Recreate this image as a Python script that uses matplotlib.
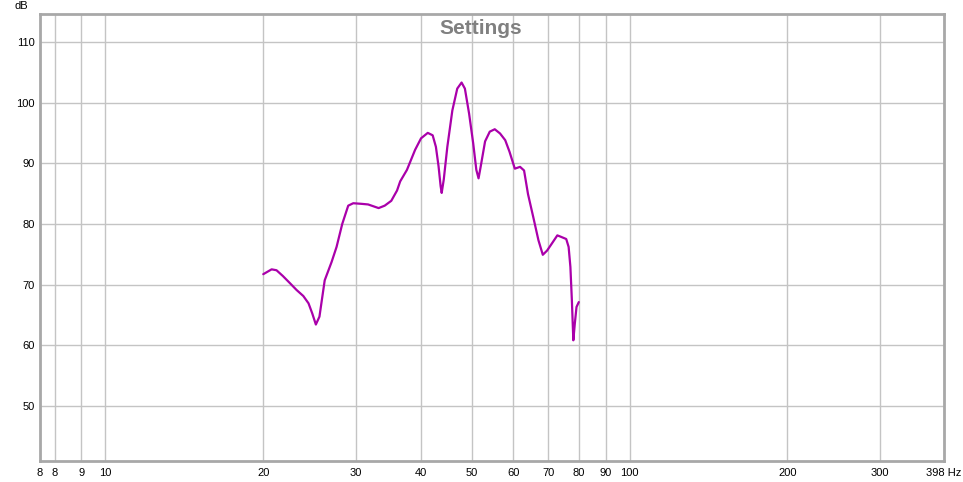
import numpy as np
import matplotlib.pyplot as plt

freq_hz = [20.0, 20.75, 21.2, 21.8, 22.5, 23.15, 23.85, 24.4, 24.8, 25.2, 25.6, 26.2,
           27.0, 27.6, 28.3, 29.05, 29.7, 30.8, 31.7, 33.2, 34.1, 35.1, 36.0, 36.5,
           37.6, 38.97, 40.0, 41.2, 42.1, 42.7, 43.2, 43.6, 43.8, 44.2, 44.9, 45.9,
           46.9, 47.8, 48.5, 49.4, 50.3, 51.0, 51.5, 52.0, 53.0, 54.1, 55.3, 56.6,
           57.9, 59.0, 60.4, 61.8, 62.9, 64.0, 65.5, 67.0, 68.3, 69.6, 71.0, 72.8,
           73.8, 75.7, 76.5, 77.1, 77.6, 78.1, 78.6, 79.2, 80.0]
spl_db = [71.7, 72.5, 72.35, 71.4, 70.2, 69.1, 68.1, 66.9, 65.25, 63.4, 64.7, 70.7,
          73.7, 76.2, 80.0, 83.0, 83.4, 83.3, 83.2, 82.6, 83.0, 83.8, 85.5, 87.0,
          88.9, 92.2, 94.1, 95.0, 94.6, 92.7, 89.5, 86.2, 85.1, 87.3, 92.7, 98.7,
          102.3, 103.3, 102.3, 98.2, 93.3, 88.9, 87.5, 89.5, 93.6, 95.2, 95.6, 94.9,
          93.8, 91.9, 89.1, 89.4, 88.8, 84.9, 81.1, 77.3, 74.9, 75.6, 76.7, 78.1,
          77.9, 77.5, 76.2, 72.9, 67.4, 60.8, 63.5, 66.3, 67.1]

x_ticks = [7.5, 8, 9, 10, 20, 30, 40, 50, 60, 70, 80, 90, 100, 200, 300, 398]
x_labels = ['8', '8', '9', '10', '20', '30', '40', '50', '60', '70', '80', '90', '100',
            '200', '300', '398 Hz']
y_ticks = [50, 60, 70, 80, 90, 100, 110]

plt.rcParams['font.family'] = ['Liberation Sans', 'DejaVu Sans']

fig = plt.figure(figsize=(9.63, 4.82), dpi=100)
ax = fig.add_axes([40/963, 1-461/482, (944-40)/963, (461-14)/482])

ax.plot(freq_hz, spl_db, color='#AA00AA', lw=1.6,
        solid_joinstyle='round', solid_capstyle='round')

ax.set_xscale('log')
ax.set_xlim(7.5, 398)
ax.set_ylim(40.9, 114.6)
ax.set_xticks(x_ticks)
ax.set_xticklabels(x_labels)
ax.minorticks_off()
ax.set_yticks(y_ticks)
ax.tick_params(length=0, labelsize=8, colors='black', pad=5)
ax.tick_params(axis='y', pad=4)
ax.grid(True, color='#C4C4C4', lw=1)
ax.set_axisbelow(True)

for s in ax.spines.values():
    s.set_color('#A8A8A8')
    s.set_linewidth(2)

ax.text((481-40)/904, 0.967, 'Settings', transform=ax.transAxes, ha='center', va='center',
        fontsize=15, fontweight='bold', color='#808080')
fig.text(21/963, 1-6/482, 'dB', ha='center', va='center', fontsize=8)

fig.savefig('out.png', dpi=100)
